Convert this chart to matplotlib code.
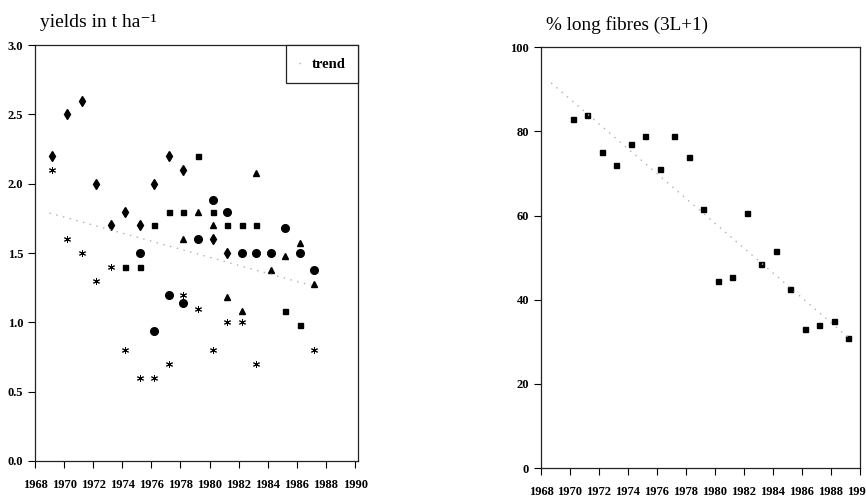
import numpy as np
import matplotlib
matplotlib.use("Agg")
import matplotlib.pyplot as plt
from matplotlib.lines import Line2D

plt.rcParams['font.family'] = ['Liberation Serif', 'DejaVu Serif']

## yields (t/ha) per variety
dia_years = [1969, 1970, 1971, 1972, 1973, 1974, 1975, 1976, 1977, 1978, 1980, 1981]
dia_vals = [2.2, 2.5, 2.6, 2.0, 1.7, 1.8, 1.7, 2.0, 2.2, 2.1, 1.6, 1.5]

sq_years = [1974, 1975, 1976, 1977, 1978, 1979, 1980, 1981, 1982, 1983, 1985, 1986]
sq_vals = [1.4, 1.4, 1.7, 1.8, 1.8, 2.2, 1.8, 1.7, 1.7, 1.7, 1.08, 0.98]

tri_years = [1978, 1979, 1980, 1981, 1982, 1983, 1984, 1985, 1986, 1987]
tri_vals = [1.6, 1.8, 1.7, 1.18, 1.08, 2.08, 1.38, 1.48, 1.57, 1.28]

circ_years = [1975, 1976, 1977, 1978, 1979, 1980, 1981, 1982, 1983, 1984, 1985, 1986, 1987]
circ_vals = [1.5, 0.94, 1.2, 1.14, 1.6, 1.88, 1.8, 1.5, 1.5, 1.5, 1.68, 1.5, 1.38]

ast_years = [1969, 1970, 1971, 1972, 1973, 1974, 1975, 1976, 1977, 1978, 1979, 1980, 1981, 1982, 1983, 1987]
ast_vals = [2.1, 1.6, 1.5, 1.3, 1.4, 0.8, 0.6, 0.6, 0.7, 1.2, 1.1, 0.8, 1.0, 1.0, 0.7, 0.8]

## % long fibres
fib_years = [1970, 1971, 1972, 1973, 1974, 1975, 1976, 1977, 1978, 1979,
             1980, 1981, 1982, 1983, 1984, 1985, 1986, 1987, 1988, 1989]
fib_vals = [83, 84, 75, 72, 77, 79, 71, 79, 74, 61.5,
            44.5, 45.5, 60.5, 48.5, 51.5, 42.5, 33, 34, 35, 31]

xticks = [1968, 1970, 1972, 1974, 1976, 1978, 1980, 1982, 1984, 1986, 1988, 1990]

XOFF = 0.2  # points sit a little right of the year tick in the original
TREND_COL = '#b0b0b0'

fig = plt.figure(figsize=(8.66, 4.98), dpi=100)
ax1 = fig.add_axes([0.0404, 0.0743, 0.373, 0.835])
ax2 = fig.add_axes([0.6247, 0.0602, 0.368, 0.845])

def style(ax):
        for s in ax.spines.values():
                s.set_linewidth(0.9)
                s.set_color('#222222')
        ax.set_xticks(xticks)
        ax.tick_params(direction='out', length=5, width=0.8, labelsize=9)
        ax.tick_params(axis='x', pad=8)
        for lab in ax.get_xticklabels() + ax.get_yticklabels():
                lab.set_fontweight('bold')

# left: yields
mk = dict(color='black', linestyle='none')
ax1.plot(np.array(dia_years) + XOFF, dia_vals, marker='d', ms=5, **mk)
ax1.plot(np.array(sq_years) + XOFF, sq_vals, marker='s', ms=3.6, **mk)
ax1.plot(np.array(tri_years) + XOFF, tri_vals, marker='^', ms=5, **mk)
ax1.plot(np.array(circ_years) + XOFF, circ_vals, marker='o', ms=5.5, **mk)
ax1.plot(np.array(ast_years) + XOFF, ast_vals, marker=(6, 2, 0), ms=5, mew=0.7, **mk)

all_x = np.array(dia_years + sq_years + tri_years + circ_years + ast_years) + XOFF
all_y = np.array(dia_vals + sq_vals + tri_vals + circ_vals + ast_vals)
p = np.polyfit(all_x, all_y, 1)
tx = np.array([all_x.min() - 0.2, all_x.max()])
ax1.plot(tx, np.polyval(p, tx), linestyle=(0, (1, 4)), color=TREND_COL, lw=1)

ax1.set_xlim(1968, 1990.2)
ax1.set_ylim(0, 3.0)
ax1.set_yticks([0.0, 0.5, 1.0, 1.5, 2.0, 2.5, 3.0])
ax1.set_yticklabels(['0.0', '0.5', '1.0', '1.5', '2.0', '2.5', '3.0'])
style(ax1)

h = [Line2D([], [], linestyle=(0, (1, 4)), color=TREND_COL, lw=1)]
leg = ax1.legend(h, ['trend'], loc='upper right', borderaxespad=0, fancybox=False,
                 handlelength=0.4, handletextpad=0.5, borderpad=0.85,
                 prop={'weight': 'bold', 'size': 10.5}, framealpha=1)
leg.get_frame().set_edgecolor('#222222')
leg.get_frame().set_linewidth(0.9)

fig.text(0.046, 0.955, 'yields in t ha\u207b\u00b9', fontsize=14, va='center', ha='left')

# right: long fibres
fx = np.array(fib_years) + XOFF
ax2.plot(fx, fib_vals, marker='s', ms=3.6, **mk)
p2 = np.polyfit(fx, fib_vals, 1)
tx2 = np.array([fx.min() - 1.5, fx.max()])
ax2.plot(tx2, np.polyval(p2, tx2), linestyle=(0, (1, 4)), color=TREND_COL, lw=1)
ax2.set_xlim(1968, 1990)
ax2.set_ylim(0, 100)
ax2.set_yticks([0, 20, 40, 60, 80, 100])
style(ax2)

fig.text(0.631, 0.95, '% long fibres (3L+1)', fontsize=13.8, va='center', ha='left')

plt.savefig('out.png', dpi=100)
